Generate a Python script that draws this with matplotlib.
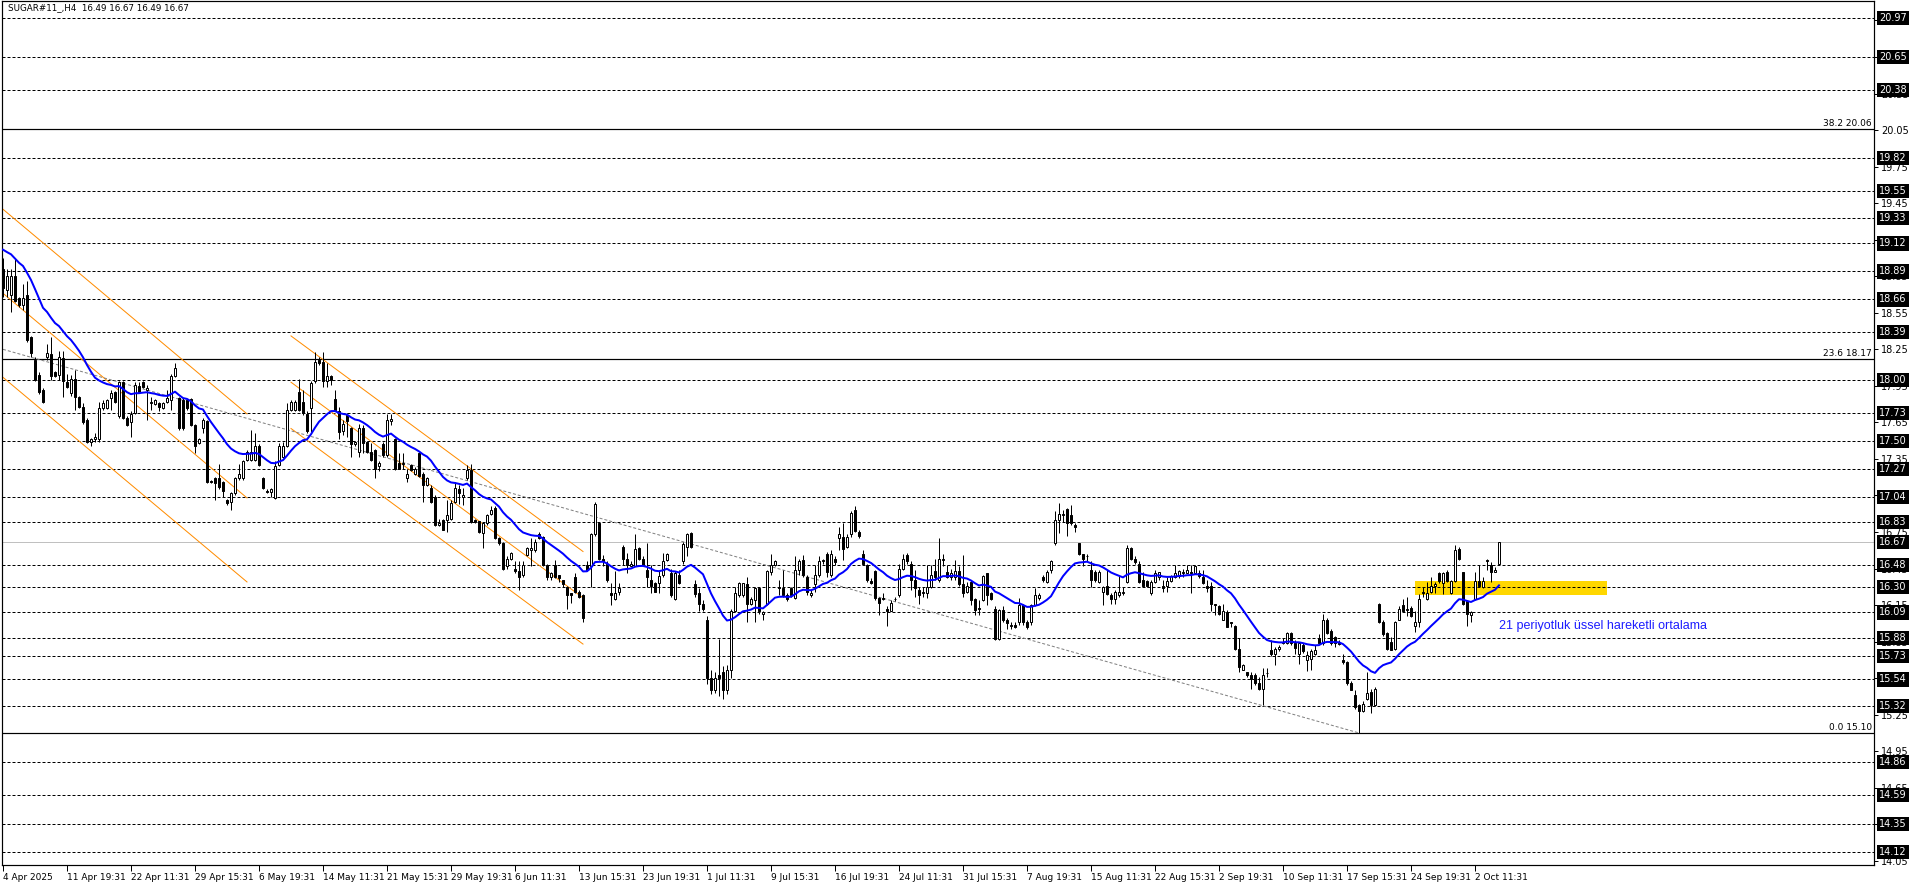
import matplotlib
matplotlib.use('Agg')
import matplotlib.pyplot as plt
import pandas as pd

# ---- chart data (H4 bars) ----
title_text = 'SUGAR#11_,H4  16.49 16.67 16.49 16.67'

opens = [
    18.91, 18.74, 18.70, 18.85, 18.67, 18.61, 18.70, 18.35, 18.16, 18.04,
    17.92, 18.19, 18.21, 18.06, 18.04, 18.18, 17.98, 17.89, 18.01, 17.86,
    17.78, 17.67, 17.49, 17.51, 17.51, 17.77, 17.77, 17.85, 17.90, 17.70,
    17.98, 17.69, 17.65, 17.73, 17.95, 17.98, 17.92, 17.81, 17.80, 17.81,
    17.77, 17.82, 17.83, 18.03, 17.85, 17.83, 17.83, 17.84, 17.63, 17.48,
    17.60, 17.66, 17.17, 17.19, 17.19, 17.16, 17.01, 17.00, 17.07, 17.19,
    17.19, 17.34, 17.34, 17.34, 17.46, 17.19, 17.09, 17.08, 17.03, 17.30,
    17.37, 17.46, 17.75, 17.75, 17.90, 17.82, 17.72, 17.77, 17.99, 18.16,
    18.15, 17.99, 18.03, 17.84, 17.74, 17.58, 17.71, 17.60, 17.47, 17.41,
    17.60, 17.49, 17.41, 17.42, 17.29, 17.47, 17.38, 17.66, 17.51, 17.32,
    17.31, 17.19, 17.30, 17.23, 17.40, 17.23, 17.14, 17.11, 17.04, 16.81,
    16.85, 16.85, 16.86, 17.00, 17.10, 17.04, 17.19, 17.26, 16.85, 16.84,
    16.74, 16.82, 16.90, 16.95, 16.70, 16.66, 16.47, 16.53, 16.45, 16.43,
    16.40, 16.56, 16.60, 16.60, 16.73, 16.71, 16.48, 16.38, 16.48, 16.40,
    16.36, 16.30, 16.25, 16.38, 16.26, 16.23, 16.48, 16.47, 16.73, 16.82,
    16.53, 16.49, 16.25, 16.20, 16.26, 16.63, 16.53, 16.47, 16.47, 16.62,
    16.53, 16.44, 16.36, 16.33, 16.33, 16.40, 16.52, 16.41, 16.20, 16.40,
    16.51, 16.63, 16.74, 16.32, 16.25, 16.16, 16.03, 15.55, 15.45, 15.58,
    15.60, 15.45, 15.62, 16.10, 16.23, 16.23, 16.32, 16.16, 16.19, 16.29,
    16.08, 16.16, 16.42, 16.48, 16.30, 16.29, 16.23, 16.29, 16.21, 16.44,
    16.52, 16.38, 16.23, 16.32, 16.40, 16.51, 16.57, 16.40, 16.53, 16.70,
    16.71, 16.63, 16.73, 16.93, 16.75, 16.57, 16.48, 16.35, 16.43, 16.21,
    16.21, 16.12, 16.10, 16.20, 16.23, 16.45, 16.56, 16.49, 16.36, 16.27,
    16.25, 16.25, 16.30, 16.43, 16.36, 16.52, 16.42, 16.38, 16.38, 16.43,
    16.32, 16.26, 16.34, 16.20, 16.13, 16.19, 16.41, 16.25, 16.12, 15.87,
    16.11, 16.03, 15.98, 15.99, 16.01, 16.15, 16.01, 16.01, 16.15, 16.21,
    16.38, 16.34, 16.44, 16.66, 16.85, 16.89, 16.94, 16.89, 16.81, 16.66,
    16.57, 16.55, 16.44, 16.42, 16.34, 16.26, 16.31, 16.23, 16.20, 16.23,
    16.25, 16.34, 16.62, 16.53, 16.49, 16.36, 16.35, 16.25, 16.34, 16.38,
    16.31, 16.31, 16.35, 16.38, 16.39, 16.42, 16.41, 16.42, 16.41, 16.41,
    16.38, 16.31, 16.31, 16.16, 16.14, 16.03, 16.09, 16.01, 15.98, 15.79,
    15.62, 15.60, 15.58, 15.58, 15.51, 15.46, 15.59, 15.78, 15.75, 15.79,
    15.85, 15.84, 15.92, 15.84, 15.75, 15.82, 15.70, 15.71, 15.75, 15.88,
    15.84, 16.03, 15.94, 15.89, 15.84, 15.70, 15.68, 15.51, 15.41, 15.33,
    15.28, 15.38, 15.44, 15.33, 16.16, 16.01, 15.92, 15.85, 15.79, 16.03,
    16.15, 16.11, 16.13, 15.98, 16.01, 16.26, 16.20, 16.26, 16.31, 16.41,
    16.33, 16.42, 16.25, 16.35, 16.61, 16.42, 16.18, 16.07, 16.20, 16.35,
    16.30, 16.51, 16.48, 16.42, 16.49,
]

highs = [
    19.00, 18.91, 18.91, 19.00, 18.68, 18.79, 18.81, 18.36, 18.19, 18.06,
    17.93, 18.29, 18.35, 18.07, 18.24, 18.24, 18.05, 18.04, 18.08, 17.87,
    17.81, 17.69, 17.52, 17.56, 17.82, 17.83, 17.84, 17.92, 17.91, 17.99,
    17.99, 17.70, 17.74, 17.98, 17.98, 17.99, 17.96, 17.86, 17.84, 17.82,
    17.82, 17.92, 18.05, 18.14, 17.86, 17.85, 17.84, 17.85, 17.64, 17.52,
    17.69, 17.67, 17.18, 17.20, 17.31, 17.17, 17.02, 17.08, 17.20, 17.31,
    17.34, 17.42, 17.59, 17.56, 17.47, 17.20, 17.10, 17.11, 17.33, 17.48,
    17.49, 17.81, 17.83, 17.83, 18.01, 17.92, 17.74, 17.99, 18.23, 18.19,
    18.23, 18.14, 18.04, 17.92, 17.78, 17.67, 17.73, 17.61, 17.50, 17.64,
    17.63, 17.50, 17.48, 17.43, 17.33, 17.49, 17.72, 17.72, 17.52, 17.40,
    17.40, 17.27, 17.31, 17.28, 17.41, 17.24, 17.20, 17.14, 17.05, 16.86,
    16.86, 17.01, 17.01, 17.16, 17.14, 17.11, 17.30, 17.31, 16.86, 16.84,
    16.83, 16.90, 16.96, 16.96, 16.71, 16.67, 16.55, 16.59, 16.51, 16.51,
    16.51, 16.63, 16.70, 16.69, 16.75, 16.72, 16.49, 16.42, 16.52, 16.40,
    16.36, 16.31, 16.25, 16.41, 16.27, 16.24, 16.51, 16.74, 17.00, 16.83,
    16.56, 16.51, 16.33, 16.43, 16.33, 16.64, 16.58, 16.51, 16.73, 16.63,
    16.55, 16.66, 16.48, 16.34, 16.44, 16.58, 16.58, 16.45, 16.43, 16.44,
    16.67, 16.74, 16.75, 16.36, 16.29, 16.19, 16.06, 15.62, 15.60, 15.87,
    15.65, 15.66, 16.12, 16.30, 16.34, 16.33, 16.38, 16.22, 16.30, 16.30,
    16.10, 16.44, 16.57, 16.52, 16.36, 16.44, 16.25, 16.30, 16.55, 16.53,
    16.56, 16.40, 16.27, 16.48, 16.55, 16.53, 16.59, 16.60, 16.55, 16.79,
    16.82, 16.73, 16.92, 16.96, 16.77, 16.60, 16.49, 16.37, 16.44, 16.22,
    16.25, 16.14, 16.19, 16.22, 16.49, 16.57, 16.58, 16.51, 16.44, 16.30,
    16.30, 16.48, 16.48, 16.53, 16.70, 16.57, 16.48, 16.45, 16.52, 16.47,
    16.56, 16.34, 16.36, 16.21, 16.19, 16.40, 16.41, 16.26, 16.14, 16.12,
    16.14, 16.04, 16.01, 16.01, 16.21, 16.16, 16.03, 16.16, 16.29, 16.25,
    16.40, 16.44, 16.52, 16.92, 16.99, 16.93, 16.95, 16.97, 16.82, 16.66,
    16.57, 16.57, 16.51, 16.44, 16.44, 16.31, 16.44, 16.25, 16.27, 16.39,
    16.30, 16.64, 16.63, 16.55, 16.51, 16.42, 16.36, 16.36, 16.44, 16.42,
    16.36, 16.38, 16.40, 16.48, 16.44, 16.45, 16.48, 16.48, 16.48, 16.44,
    16.44, 16.36, 16.34, 16.16, 16.15, 16.16, 16.11, 16.01, 15.99, 15.88,
    15.67, 15.60, 15.60, 15.59, 15.56, 15.63, 15.63, 15.86, 15.81, 15.82,
    15.88, 15.93, 15.93, 15.86, 15.84, 15.84, 15.77, 15.79, 15.82, 15.91,
    16.08, 16.04, 15.95, 15.90, 15.86, 15.75, 15.69, 15.53, 15.45, 15.34,
    15.36, 15.60, 15.46, 15.48, 16.17, 16.03, 15.93, 15.89, 16.02, 16.14,
    16.20, 16.22, 16.14, 16.10, 16.24, 16.30, 16.34, 16.38, 16.34, 16.42,
    16.42, 16.44, 16.36, 16.64, 16.63, 16.42, 16.19, 16.10, 16.42, 16.48,
    16.38, 16.53, 16.50, 16.46, 16.67,
]

lows = [
    18.68, 18.68, 18.56, 18.64, 18.60, 18.57, 18.31, 18.19, 17.99, 17.88,
    17.81, 18.16, 18.00, 18.02, 18.00, 17.86, 17.93, 17.87, 17.75, 17.77,
    17.64, 17.48, 17.46, 17.49, 17.49, 17.75, 17.76, 17.75, 17.81, 17.69,
    17.68, 17.62, 17.53, 17.72, 17.89, 17.93, 17.67, 17.75, 17.79, 17.74,
    17.76, 17.81, 17.75, 18.02, 17.59, 17.59, 17.75, 17.62, 17.40, 17.47,
    17.56, 17.15, 17.15, 17.01, 17.10, 17.04, 16.97, 16.93, 17.05, 17.18,
    17.18, 17.33, 17.33, 17.33, 17.29, 17.10, 17.07, 17.04, 17.02, 17.29,
    17.36, 17.45, 17.74, 17.74, 17.74, 17.71, 17.56, 17.57, 17.97, 18.12,
    17.94, 17.94, 17.96, 17.75, 17.51, 17.55, 17.53, 17.37, 17.46, 17.37,
    17.40, 17.40, 17.33, 17.19, 17.25, 17.37, 17.37, 17.63, 17.26, 17.27,
    17.27, 17.16, 17.25, 17.22, 17.20, 17.00, 17.13, 16.99, 16.80, 16.80,
    16.77, 16.75, 16.85, 16.99, 16.98, 16.97, 17.18, 16.82, 16.82, 16.74,
    16.62, 16.81, 16.89, 16.69, 16.64, 16.44, 16.45, 16.52, 16.41, 16.27,
    16.38, 16.55, 16.47, 16.59, 16.69, 16.47, 16.36, 16.36, 16.37, 16.34,
    16.30, 16.12, 16.17, 16.25, 16.21, 16.01, 16.43, 16.30, 16.72, 16.52,
    16.47, 16.34, 16.15, 16.19, 16.23, 16.48, 16.41, 16.47, 16.47, 16.52,
    16.47, 16.30, 16.25, 16.26, 16.25, 16.38, 16.51, 16.22, 16.19, 16.32,
    16.49, 16.55, 16.62, 16.22, 16.10, 16.10, 15.50, 15.42, 15.43, 15.40,
    15.38, 15.42, 15.55, 16.09, 16.22, 16.22, 16.01, 16.15, 16.01, 16.08,
    16.03, 16.15, 16.40, 16.47, 16.23, 16.22, 16.18, 16.22, 16.20, 16.40,
    16.38, 16.23, 16.22, 16.26, 16.38, 16.49, 16.38, 16.38, 16.48, 16.60,
    16.52, 16.62, 16.71, 16.75, 16.70, 16.49, 16.34, 16.32, 16.19, 16.07,
    16.19, 15.98, 16.10, 16.18, 16.22, 16.44, 16.49, 16.27, 16.22, 16.16,
    16.22, 16.21, 16.29, 16.36, 16.34, 16.47, 16.37, 16.36, 16.36, 16.31,
    16.22, 16.25, 16.15, 16.07, 16.07, 16.18, 16.15, 16.19, 15.86, 15.86,
    16.01, 15.95, 15.95, 15.96, 15.99, 15.99, 15.95, 15.99, 16.14, 16.19,
    16.34, 16.33, 16.41, 16.64, 16.74, 16.83, 16.72, 16.81, 16.75, 16.56,
    16.47, 16.51, 16.30, 16.34, 16.33, 16.15, 16.23, 16.16, 16.16, 16.22,
    16.23, 16.33, 16.52, 16.49, 16.33, 16.30, 16.30, 16.23, 16.33, 16.36,
    16.26, 16.26, 16.34, 16.37, 16.37, 16.38, 16.41, 16.25, 16.41, 16.37,
    16.32, 16.26, 16.10, 16.07, 16.07, 16.03, 15.97, 15.97, 15.78, 15.60,
    15.62, 15.56, 15.46, 15.49, 15.45, 15.33, 15.56, 15.73, 15.66, 15.77,
    15.83, 15.83, 15.82, 15.75, 15.67, 15.76, 15.61, 15.62, 15.74, 15.84,
    15.82, 15.91, 15.82, 15.81, 15.82, 15.67, 15.49, 15.45, 15.30, 15.10,
    15.27, 15.37, 15.26, 15.32, 16.00, 15.90, 15.78, 15.78, 15.78, 16.03,
    16.09, 16.06, 16.05, 15.93, 15.97, 16.22, 16.19, 16.25, 16.25, 16.33,
    16.24, 16.34, 16.24, 16.34, 16.52, 16.15, 15.98, 16.01, 16.19, 16.30,
    16.29, 16.44, 16.34, 16.42, 16.49,
]

closes = [
    18.75, 18.85, 18.85, 18.65, 18.61, 18.67, 18.33, 18.22, 18.00, 17.90,
    17.82, 18.22, 18.03, 18.03, 18.19, 17.99, 17.94, 18.01, 17.86, 17.78,
    17.65, 17.49, 17.51, 17.53, 17.77, 17.81, 17.83, 17.89, 17.82, 17.98,
    17.69, 17.63, 17.72, 17.96, 17.90, 17.94, 17.93, 17.82, 17.83, 17.78,
    17.81, 17.85, 18.03, 18.10, 17.60, 17.60, 17.77, 17.63, 17.46, 17.51,
    17.67, 17.16, 17.16, 17.15, 17.12, 17.09, 16.99, 17.07, 17.19, 17.23,
    17.33, 17.41, 17.41, 17.46, 17.30, 17.11, 17.08, 17.10, 17.29, 17.46,
    17.46, 17.75, 17.82, 17.82, 17.75, 17.73, 17.58, 17.97, 18.15, 18.14,
    17.99, 18.03, 18.00, 17.75, 17.57, 17.64, 17.66, 17.47, 17.49, 17.60,
    17.48, 17.41, 17.34, 17.27, 17.32, 17.38, 17.67, 17.68, 17.27, 17.27,
    17.32, 17.23, 17.26, 17.27, 17.21, 17.14, 17.19, 17.00, 16.81, 16.82,
    16.77, 16.89, 16.99, 17.11, 17.07, 17.05, 17.26, 16.83, 16.83, 16.75,
    16.82, 16.89, 16.93, 16.70, 16.66, 16.45, 16.53, 16.58, 16.43, 16.38,
    16.48, 16.62, 16.62, 16.67, 16.70, 16.48, 16.38, 16.41, 16.38, 16.37,
    16.32, 16.23, 16.23, 16.26, 16.22, 16.04, 16.44, 16.73, 16.98, 16.53,
    16.51, 16.36, 16.23, 16.25, 16.29, 16.53, 16.48, 16.49, 16.61, 16.53,
    16.48, 16.38, 16.31, 16.26, 16.39, 16.51, 16.57, 16.23, 16.41, 16.33,
    16.65, 16.73, 16.63, 16.24, 16.16, 16.12, 15.55, 15.45, 15.55, 15.55,
    15.45, 15.62, 16.10, 16.25, 16.33, 16.33, 16.16, 16.20, 16.29, 16.10,
    16.09, 16.43, 16.48, 16.51, 16.29, 16.23, 16.20, 16.23, 16.44, 16.51,
    16.40, 16.26, 16.25, 16.40, 16.51, 16.52, 16.42, 16.57, 16.50, 16.73,
    16.61, 16.71, 16.91, 16.76, 16.72, 16.49, 16.36, 16.33, 16.21, 16.17,
    16.20, 16.10, 16.17, 16.20, 16.45, 16.53, 16.51, 16.36, 16.29, 16.23,
    16.26, 16.30, 16.40, 16.38, 16.53, 16.53, 16.38, 16.41, 16.43, 16.32,
    16.25, 16.31, 16.19, 16.11, 16.12, 16.39, 16.23, 16.20, 15.87, 16.11,
    16.03, 16.00, 15.99, 15.97, 16.15, 16.01, 15.97, 16.15, 16.23, 16.23,
    16.36, 16.42, 16.51, 16.85, 16.90, 16.90, 16.82, 16.82, 16.79, 16.57,
    16.53, 16.55, 16.36, 16.36, 16.42, 16.30, 16.24, 16.20, 16.26, 16.26,
    16.25, 16.62, 16.53, 16.50, 16.34, 16.31, 16.31, 16.34, 16.41, 16.42,
    16.29, 16.35, 16.39, 16.41, 16.43, 16.41, 16.44, 16.41, 16.47, 16.39,
    16.33, 16.29, 16.16, 16.15, 16.08, 16.10, 15.97, 16.00, 15.79, 15.64,
    15.66, 15.58, 15.54, 15.51, 15.46, 15.58, 15.59, 15.75, 15.79, 15.81,
    15.84, 15.92, 15.84, 15.80, 15.84, 15.77, 15.74, 15.77, 15.78, 15.84,
    16.03, 15.92, 15.84, 15.84, 15.83, 15.68, 15.51, 15.45, 15.31, 15.28,
    15.34, 15.43, 15.33, 15.46, 16.01, 15.91, 15.79, 15.78, 16.01, 16.12,
    16.10, 16.12, 16.06, 16.01, 16.20, 16.25, 16.25, 16.31, 16.32, 16.35,
    16.41, 16.35, 16.35, 16.60, 16.53, 16.16, 16.08, 16.09, 16.35, 16.31,
    16.35, 16.52, 16.42, 16.44, 16.67,
]

ema_seed = 19.10      # EMA value just before the first visible bar
ema_period = 21

date_labels = ['4 Apr 2025', '11 Apr 19:31', '22 Apr 11:31', '29 Apr 15:31',
               '6 May 19:31', '14 May 11:31', '21 May 15:31', '29 May 19:31',
               '6 Jun 11:31', '13 Jun 15:31', '23 Jun 19:31', '1 Jul 11:31',
               '9 Jul 15:31', '16 Jul 19:31', '24 Jul 11:31', '31 Jul 15:31',
               '7 Aug 19:31', '15 Aug 11:31', '22 Aug 15:31', '2 Sep 19:31',
               '10 Sep 11:31', '17 Sep 15:31', '24 Sep 19:31', '2 Oct 11:31']
label_step = 16

price_ticks = [14.05, 14.35, 14.65, 14.95, 15.25, 15.55, 15.85, 16.15, 16.45,
               16.75, 17.05, 17.35, 17.65, 17.95, 18.25, 18.55, 18.85, 19.15,
               19.45, 19.75, 20.05, 20.35, 20.65, 20.95]

hlines = [20.97, 20.65, 20.38, 19.82, 19.55, 19.33, 19.12, 18.89, 18.66, 18.39,
          18.00, 17.73, 17.50, 17.27, 17.04, 16.83, 16.48, 16.30, 16.09, 15.88,
          15.73, 15.54, 15.32, 14.86, 14.59, 14.35, 14.12]
last_price = 16.67

fib_levels = [20.06, 18.17, 15.10]
fib_names = ['38.2', '23.6', '0.0']

# trend channels: (bar, price) -> (bar, price)
channel_lines = [
    ((0, 19.40), (61, 17.72)),
    ((0, 18.71), (61, 17.03)),
    ((0, 18.02), (61, 16.34)),
    ((72, 18.36), (145, 16.59)),
    ((72, 17.98), (145, 16.21)),
    ((72, 17.60), (145, 15.83)),
]
gray_trend = ((0, 18.25), (339, 15.10))

zone_bars = (353, 401)
zone_prices = (16.23, 16.35)
note_text = '21 periyotluk üssel hareketli ortalama'
note_pos = (374, 15.98)

# ---- figure ----
px = 0.72  # one pixel in points at dpi 100
fig = plt.figure(figsize=(19.16, 8.88), dpi=100)
ax = fig.add_axes([2 / 1916, 23 / 888, 1872 / 1916, 864 / 888])
ax.set_xlim(-0.25, 467.75)
ax.set_ylim(14.016, 21.11)

x = list(range(len(closes)))

# yellow zone (behind everything)
ax.fill_between(zone_bars, zone_prices[0], zone_prices[1], color='#ffd700',
                lw=0, zorder=0.5)

# horizontal levels
for lv in hlines:
    ax.axhline(lv, color='black', lw=px, ls=(0, (3, 2)), zorder=1)
for lv in fib_levels:
    ax.axhline(lv, color='black', lw=px * 1.2, zorder=1)
ax.axhline(last_price, color='#c0c0c0', lw=px, zorder=1)

# trend lines
for (x0, y0), (x1, y1) in channel_lines:
    ax.plot([x0, x1], [y0, y1], color='#ff8c00', lw=px, zorder=1.5)
ax.plot([gray_trend[0][0], gray_trend[1][0]], [gray_trend[0][1], gray_trend[1][1]],
        color='#808080', lw=px, ls=(0, (3, 2)), zorder=1.5)

# candles
ax.vlines(x, lows, highs, color='black', lw=px, zorder=2)
bottoms = [min(o, c) for o, c in zip(opens, closes)]
heights = [max(abs(c - o), 0.004) for o, c in zip(opens, closes)]
colors = ['white' if c >= o else 'black' for o, c in zip(opens, closes)]
ax.bar(x, heights, bottom=bottoms, width=0.5, color=colors, edgecolor='black',
       linewidth=px, zorder=2.2)

# 21 EMA
ema = pd.Series([ema_seed] + closes).ewm(span=ema_period, adjust=False).mean()[1:]
ax.plot(x, ema.values, color='blue', lw=2 * px, zorder=3)

ax.text(note_pos[0], note_pos[1], note_text, color='#1c1cff', fontsize=9,
        family='Liberation Sans', va='center', ha='left', zorder=4)

# fibonacci labels
for lv, nm in zip(fib_levels, fib_names):
    ax.text(467.2, lv + 0.01, f'{nm} {lv:.2f}', ha='right', va='bottom',
            fontsize=6.5, zorder=4)

ax.text(0.003, 0.997, title_text, transform=ax.transAxes, ha='left', va='top',
        fontsize=6.3, zorder=5)

# axes styling
for sp in ax.spines.values():
    sp.set_linewidth(px * 1.2)
    sp.set_color('black')

ax.yaxis.tick_right()
ax.set_yticks(price_ticks)
ax.set_yticklabels([f'{t:.2f}' for t in price_ticks])
ax.tick_params(axis='y', length=3, width=px, pad=2, labelsize=7)

ax.set_xticks(list(range(0, label_step * len(date_labels), label_step)))
ax.set_xticklabels(date_labels)
ax.tick_params(axis='x', length=4, width=px, pad=2, labelsize=6.5)
for lab in ax.get_xticklabels():
    lab.set_horizontalalignment('left')

# black price boxes on the right scale
ytr = ax.get_yaxis_transform()
for lv in hlines + [last_price]:
    ax.text(1.0028, lv, f'{lv:.2f}', transform=ytr, ha='left', va='center',
            color='white', fontsize=7, clip_on=False, zorder=6,
            bbox=dict(boxstyle='square,pad=0.22', fc='black', ec='none'))

fig.savefig('out.png', dpi=100)
